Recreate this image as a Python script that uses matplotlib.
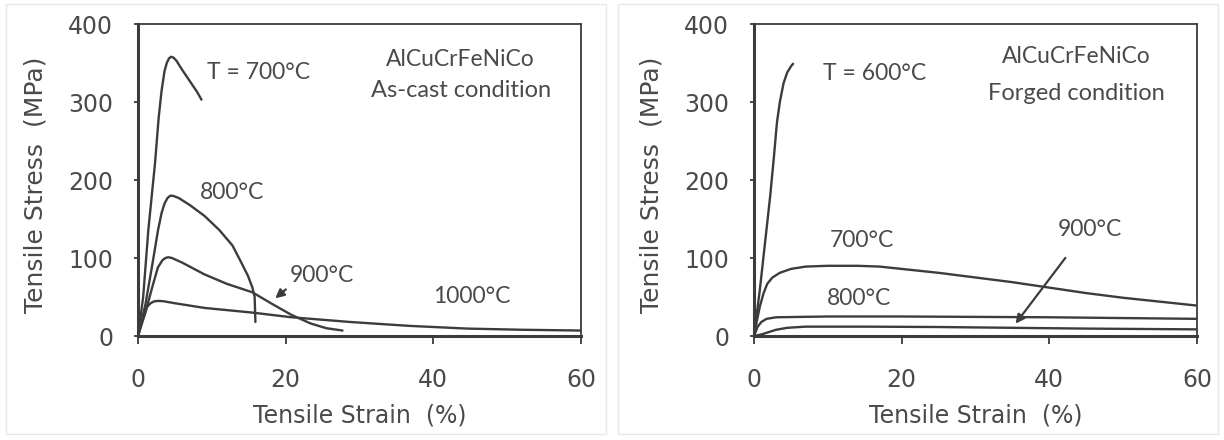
import matplotlib
matplotlib.use("Agg")
import matplotlib.pyplot as plt
from matplotlib.patches import Rectangle

# ---------------- data ----------------
# Left panel: as-cast condition
cast_700_x = [0, 0.7, 1.4, 2.3, 2.8, 3.2, 3.6, 3.9, 4.2, 4.5, 4.8, 5.2, 6, 7, 8, 8.6]
cast_700_y = [0, 50, 136, 221, 280, 315, 340, 350, 356, 358, 357, 353, 341, 327, 313, 303]
cast_800_x = [0, 1, 2, 2.7, 3.2, 3.6, 4.0, 4.4, 4.8, 5.5, 7, 9, 11, 12.8, 14, 14.9, 15.5, 15.8, 15.9]
cast_800_y = [0, 40, 95, 135, 158, 170, 177, 180, 179.5, 177, 168, 154, 136, 116, 94, 77, 62, 50, 18]
cast_900_x = [0, 1, 2, 2.7, 3.3, 3.7, 4.1, 4.6, 6, 9, 12, 15.5, 18, 20.8, 23.4, 25.5, 27.7]
cast_900_y = [0, 30, 65, 88, 97, 100, 101, 100, 94, 79, 67, 56, 42, 27, 16, 10, 7]
cast_1000_x = [0, 0.6, 1.2, 1.7, 2.2, 2.8, 3.5, 5, 9, 15.5, 20.8, 28.7, 36.7, 44.6, 52, 60]
cast_1000_y = [0, 20, 37, 42, 44.5, 45, 44.5, 42, 36, 30, 24, 18, 13, 9.5, 8, 7]

# Right panel: forged condition
forged_600_x = [0, 0.8, 1.5, 2.2, 2.7, 3.1, 3.5, 4.0, 4.5, 5.1, 5.3]
forged_600_y = [0, 60, 120, 180, 230, 273, 300, 324, 338, 347, 349]
forged_700_x = [0, 0.4, 0.8, 1.3, 1.8, 2.5, 3.5, 5, 7, 10, 14, 17, 20, 25, 30, 35, 40, 45, 50, 55, 60]
forged_700_y = [0, 20, 38, 55, 67, 75, 81, 86, 89, 90, 90, 89, 86, 81, 75, 69, 62, 55, 49, 44, 39]
forged_800_x = [0, 0.5, 1, 1.7, 3, 10, 20, 40, 60]
forged_800_y = [0, 12, 18, 22, 24, 25, 25, 24, 22]
forged_900_x = [0, 1, 2, 3, 4.5, 7, 15, 25, 35, 45, 60]
forged_900_y = [0, 2, 5, 8, 10.5, 12, 12, 11.5, 10.5, 9.5, 8.5]

x_ticks = [0, 20, 40, 60]
y_ticks = [0, 100, 200, 300, 400]
x_label = "Tensile Strain  (%)"
y_label = "Tensile Stress  (MPa)"

# ---------------- style ----------------
LINE = "#3c3c3c"
TXT = "#4a4a4a"
W, H = 1224, 440
fig = plt.figure(figsize=(W / 100, H / 100), dpi=100)
fig.patch.set_facecolor("white")

# faint panel frames
for x0 in (6, 618):
    fig.patches.append(Rectangle((x0 / W, 6 / H), 600 / W, 430 / H, transform=fig.transFigure,
                                 fill=False, edgecolor="#e8e8e8", lw=1.0))

ax_w, ax_h = 443 / W, 312 / H
axL = fig.add_axes([138 / W, 104 / H, ax_w, ax_h])
axR = fig.add_axes([754 / W, 104 / H, ax_w, ax_h])

def style(ax):
    ax.set_xlim(0, 60)
    ax.set_ylim(0, 400)
    ax.set_xticks(x_ticks)
    ax.set_yticks(y_ticks)
    ax.set_xticklabels([str(v) for v in x_ticks])
    ax.set_yticklabels([str(v) for v in y_ticks])
    for s in ("left", "bottom"):
        ax.spines[s].set_linewidth(2.2)
        ax.spines[s].set_color(LINE)
    for s in ("top", "right"):
        ax.spines[s].set_linewidth(1.3)
        ax.spines[s].set_color(LINE)
    ax.tick_params(axis="x", direction="out", length=6, width=1.3, color=LINE,
                   labelsize=17, labelcolor=TXT, pad=17)
    ax.tick_params(axis="y", direction="out", length=3, width=1.3, color=LINE,
                   labelsize=17, labelcolor=TXT, pad=15)
    for lab in ax.get_xticklabels() + ax.get_yticklabels():
        lab.set_family("DejaVu Sans")
    ax.set_xlabel(x_label, fontsize=17, color=TXT, labelpad=8, family="DejaVu Sans")
    ax.set_ylabel(y_label, fontsize=18, color=TXT, family="DejaVu Sans")
    ax.yaxis.set_label_coords(-0.205, 0.485)

lw = 1.7
for xs, ys in [(cast_700_x, cast_700_y), (cast_800_x, cast_800_y),
               (cast_900_x, cast_900_y), (cast_1000_x, cast_1000_y)]:
    axL.plot(xs, ys, color=LINE, lw=lw, solid_capstyle="round", solid_joinstyle="round")
for xs, ys in [(forged_600_x, forged_600_y), (forged_700_x, forged_700_y),
               (forged_800_x, forged_800_y), (forged_900_x, forged_900_y)]:
    axR.plot(xs, ys, color=LINE, lw=lw, solid_capstyle="round", solid_joinstyle="round")

style(axL)
style(axR)

AF = "Lato"
FS = 16.5
# left annotations
axL.text(9.3, 338, "T = 700\u00b0C", fontsize=FS, color=TXT, family=AF, va="center", ha="left")
axL.text(8.4, 184, "800\u00b0C", fontsize=FS, color=TXT, family=AF, va="center", ha="left")
axL.text(20.6, 77, "900\u00b0C", fontsize=FS, color=TXT, family=AF, va="center", ha="left")
axL.text(40.0, 51, "1000\u00b0C", fontsize=FS, color=TXT, family=AF, va="center", ha="left")
axL.text(43.7, 355, "AlCuCrFeNiCo", fontsize=FS, color=TXT, family=AF, va="center", ha="center")
axL.text(43.7, 315, "As-cast condition", fontsize=FS + 0.5, color=TXT, family=AF, va="center", ha="center")
axL.annotate("", xy=(18.3, 46), xytext=(20.3, 62),
             arrowprops=dict(arrowstyle="-|>", color=LINE, lw=1.6, mutation_scale=13))

# right annotations
axR.text(9.35, 337, "T = 600\u00b0C", fontsize=FS, color=TXT, family=AF, va="center", ha="left")
axR.text(10.3, 123, "700\u00b0C", fontsize=FS, color=TXT, family=AF, va="center", ha="left")
axR.text(9.85, 48, "800\u00b0C", fontsize=FS, color=TXT, family=AF, va="center", ha="left")
axR.text(41.2, 136, "900\u00b0C", fontsize=FS, color=TXT, family=AF, va="center", ha="left")
axR.text(43.7, 358, "AlCuCrFeNiCo", fontsize=FS, color=TXT, family=AF, va="center", ha="center")
axR.text(43.7, 311, "Forged condition", fontsize=FS + 0.5, color=TXT, family=AF, va="center", ha="center")
axR.annotate("", xy=(35.2, 13), xytext=(42.4, 103),
             arrowprops=dict(arrowstyle="-|>", color=LINE, lw=1.6, mutation_scale=13))

fig.savefig("out.png", dpi=100, facecolor="white")
